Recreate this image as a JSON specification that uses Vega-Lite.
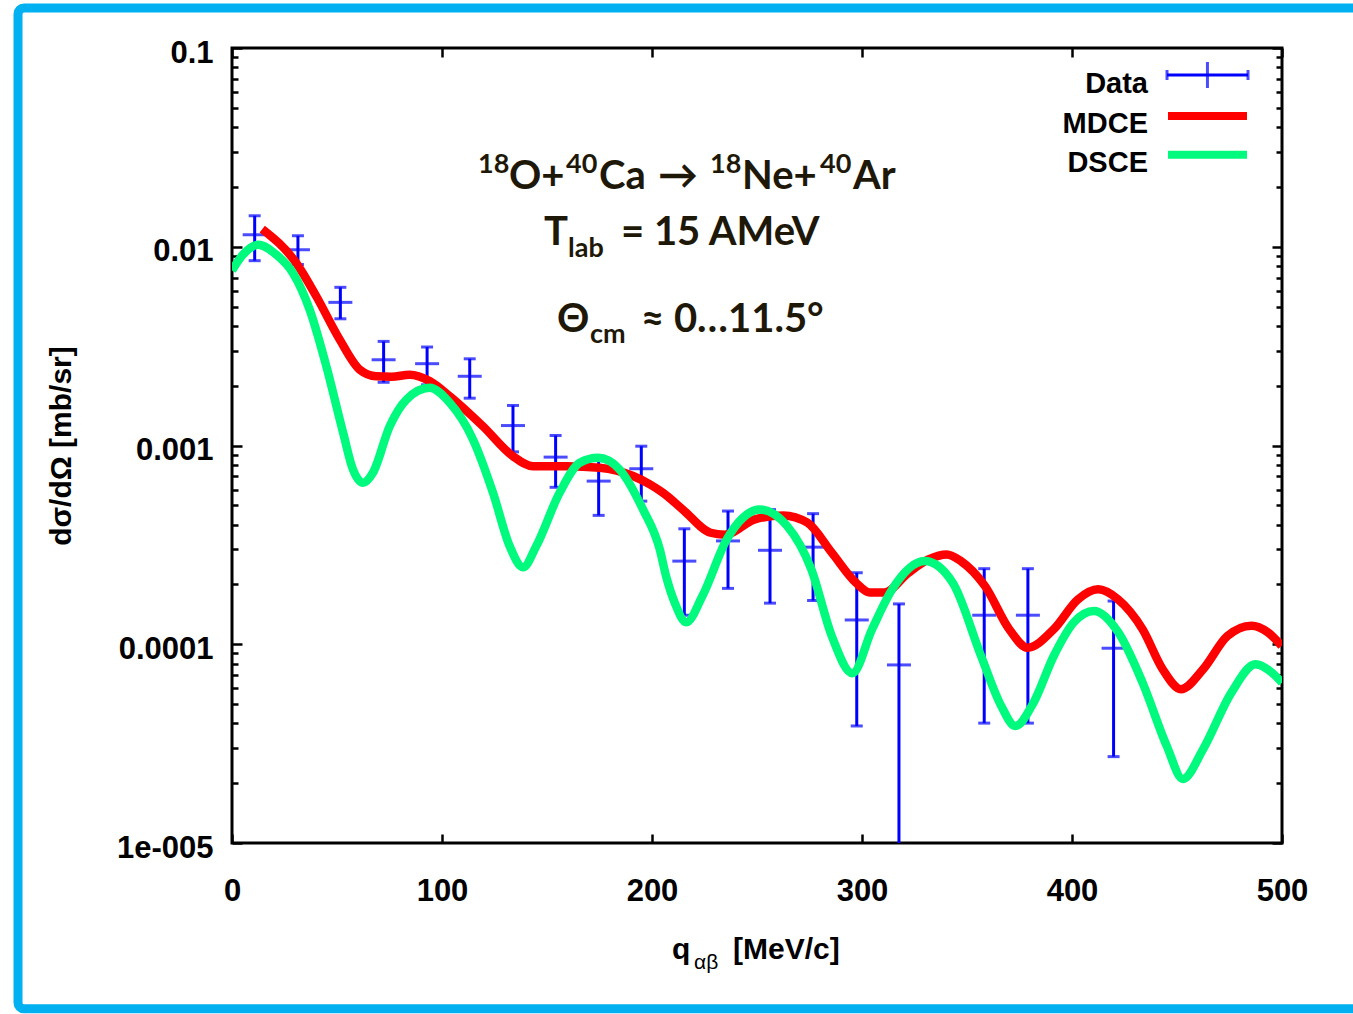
{
  "$schema": "https://vega.github.io/schema/vega-lite/v6.json",
  "width": 1050,
  "height": 795,
  "autosize": {"type": "none"},
  "padding": {"left": 232, "top": 48, "right": 71, "bottom": 171},
  "background": "white",
  "config": {
    "view": {"stroke": "black", "strokeWidth": 3},
    "axis": {
      "domain": false, "grid": false, "tickColor": "black", "tickWidth": 2.5, "labelFlush": false,
      "labelFont": "Liberation Sans", "labelFontWeight": "bold", "labelFontSize": 31, "labelColor": "black",
      "titleFont": "Liberation Sans", "titleFontWeight": "bold", "titleColor": "black"
    }
  },
  "datasets": {
    "frame": [{"q1": -101.9, "q2": 546.7, "v1": 0.1589, "v2": 1.4647e-6}],
    "points": [
      {"q": 10.8, "v": 0.01149, "lo": 0.00851, "hi": 0.01432},
      {"q": 31.4, "v": 0.00966, "lo": 0.00813, "hi": 0.01135},
      {"q": 51.6, "v": 0.00525, "lo": 0.00434, "hi": 0.00625},
      {"q": 72.2, "v": 0.0027, "lo": 0.00208, "hi": 0.00334},
      {"q": 92.9, "v": 0.00258, "lo": 0.00202, "hi": 0.00313},
      {"q": 113.2, "v": 0.00223, "lo": 0.00173, "hi": 0.00273},
      {"q": 133.8, "v": 0.00126, "lo": 0.000929, "hi": 0.00159},
      {"q": 154.1, "v": 0.000874, "lo": 0.000616, "hi": 0.001123},
      {"q": 174.6, "v": 0.000662, "lo": 0.000445, "hi": 0.000863},
      {"q": 194.9, "v": 0.000764, "lo": 0.000525, "hi": 0.000992},
      {"q": 215.4, "v": 0.000262, "lo": 0.00014, "hi": 0.000381},
      {"q": 236.2, "v": 0.000331, "lo": 0.000191, "hi": 0.000468},
      {"q": 256.2, "v": 0.000297, "lo": 0.000161, "hi": 0.000476},
      {"q": 276.7, "v": 0.000308, "lo": 0.000166, "hi": 0.000454},
      {"q": 297.5, "v": 0.0001325, "lo": 0.0000388, "hi": 0.000229},
      {"q": 317.6, "v": 0.0000787, "lo": 0.000001, "hi": 0.0001596},
      {"q": 358.2, "v": 0.00014, "lo": 0.0000401, "hi": 0.00024},
      {"q": 379.0, "v": 0.00014, "lo": 0.0000401, "hi": 0.00024},
      {"q": 419.8, "v": 0.0000955, "lo": 0.0000272, "hi": 0.000165}
    ],
    "mdce": [
      {"q": 14.4, "v": 0.01227}, {"q": 30.6, "v": 0.00828}, {"q": 40.2, "v": 0.00562},
      {"q": 51.3, "v": 0.00341}, {"q": 60.8, "v": 0.00241}, {"q": 68.7, "v": 0.00223},
      {"q": 76.0, "v": 0.00222}, {"q": 84.6, "v": 0.00227}, {"q": 94.1, "v": 0.00211},
      {"q": 103.7, "v": 0.00177}, {"q": 119.5, "v": 0.00125}, {"q": 133.8, "v": 0.000883},
      {"q": 143.3, "v": 0.000787}, {"q": 159.2, "v": 0.000787}, {"q": 175.1, "v": 0.000773},
      {"q": 191.0, "v": 0.000702}, {"q": 199.0, "v": 0.000637}, {"q": 205.2, "v": 0.000578},
      {"q": 214.6, "v": 0.000477}, {"q": 227.9, "v": 0.000364}, {"q": 234.6, "v": 0.000356},
      {"q": 249.0, "v": 0.000425}, {"q": 262.5, "v": 0.000445}, {"q": 274.0, "v": 0.000409},
      {"q": 285.6, "v": 0.000289}, {"q": 297.1, "v": 0.000204}, {"q": 303.8, "v": 0.000182},
      {"q": 310.6, "v": 0.000182}, {"q": 322.1, "v": 0.000229}, {"q": 331.7, "v": 0.000267},
      {"q": 340.3, "v": 0.000283}, {"q": 347.1, "v": 0.000262}, {"q": 358.6, "v": 0.000196},
      {"q": 370.1, "v": 0.000119}, {"q": 378.8, "v": 0.0000961}, {"q": 391.3, "v": 0.000119},
      {"q": 402.8, "v": 0.000168}, {"q": 412.4, "v": 0.000189}, {"q": 422.0, "v": 0.000168},
      {"q": 433.6, "v": 0.000119}, {"q": 443.2, "v": 0.0000748}, {"q": 451.9, "v": 0.0000594},
      {"q": 462.4, "v": 0.0000748}, {"q": 474.0, "v": 0.00011}, {"q": 485.5, "v": 0.000124},
      {"q": 493.2, "v": 0.000115}, {"q": 499.8, "v": 0.0000982}
    ],
    "dsce": [
      {"q": 0.0, "v": 0.0076}, {"q": 5.2, "v": 0.00912}, {"q": 12.4, "v": 0.01023},
      {"q": 21.1, "v": 0.00912}, {"q": 29.0, "v": 0.00738}, {"q": 37.0, "v": 0.00482},
      {"q": 44.9, "v": 0.00251}, {"q": 52.9, "v": 0.00116}, {"q": 57.6, "v": 0.000757},
      {"q": 62.4, "v": 0.000649}, {"q": 67.1, "v": 0.000729}, {"q": 75.1, "v": 0.00125},
      {"q": 83.0, "v": 0.0017}, {"q": 94.1, "v": 0.00195}, {"q": 103.7, "v": 0.00164},
      {"q": 114.8, "v": 0.00107}, {"q": 124.3, "v": 0.000578}, {"q": 132.2, "v": 0.000312},
      {"q": 138.6, "v": 0.000244}, {"q": 144.9, "v": 0.000312}, {"q": 156.0, "v": 0.000578},
      {"q": 165.6, "v": 0.000818}, {"q": 174.3, "v": 0.000867}, {"q": 184.6, "v": 0.000757},
      {"q": 195.7, "v": 0.000477}, {"q": 203.7, "v": 0.0003}, {"q": 206.7, "v": 0.00022},
      {"q": 211.0, "v": 0.00016}, {"q": 216.3, "v": 0.000129}, {"q": 224.0, "v": 0.000175},
      {"q": 235.6, "v": 0.000337}, {"q": 243.0, "v": 0.00043}, {"q": 251.0, "v": 0.000477},
      {"q": 264.4, "v": 0.000393}, {"q": 275.9, "v": 0.000238}, {"q": 285.6, "v": 0.00011},
      {"q": 295.4, "v": 0.0000715}, {"q": 304.8, "v": 0.000119}, {"q": 314.4, "v": 0.000189},
      {"q": 329.8, "v": 0.000262}, {"q": 343.2, "v": 0.000204}, {"q": 356.7, "v": 0.0000873},
      {"q": 366.3, "v": 0.0000489}, {"q": 373.0, "v": 0.0000388}, {"q": 381.7, "v": 0.0000509},
      {"q": 391.3, "v": 0.0000873}, {"q": 400.9, "v": 0.000129}, {"q": 410.5, "v": 0.000147},
      {"q": 422.0, "v": 0.000115}, {"q": 433.6, "v": 0.0000641}, {"q": 445.1, "v": 0.0000308},
      {"q": 452.8, "v": 0.000021}, {"q": 462.4, "v": 0.0000296}, {"q": 475.9, "v": 0.0000571},
      {"q": 487.4, "v": 0.0000793}, {"q": 495.1, "v": 0.0000721}, {"q": 500.0, "v": 0.0000641}
    ],
    "annBig": [
      {"t": "O+", "q": 131.9, "v": 0.019566},
      {"t": "Ca", "q": 174.76, "v": 0.019566},
      {"t": "→", "q": 202.86, "v": 0.019566},
      {"t": "Ne+", "q": 242.86, "v": 0.019566},
      {"t": "Ar", "q": 295.71, "v": 0.019566},
      {"t": "T", "q": 148.57, "v": 0.010234},
      {"t": "= 15 AMeV", "q": 185.24, "v": 0.010234},
      {"t": "Θ", "q": 154.76, "v": 0.00374},
      {"t": "≈ 0…11.5°", "q": 194.76, "v": 0.00374}
    ],
    "annSmall": [
      {"t": "18", "q": 117.14, "v": 0.02354},
      {"t": "40", "q": 159.05, "v": 0.02354},
      {"t": "18", "q": 227.62, "v": 0.02354},
      {"t": "40", "q": 280.0, "v": 0.02354},
      {"t": "lab", "q": 160.0, "v": 0.008907},
      {"t": "cm", "q": 170.48, "v": 0.003293}
    ],
    "legendText": [
      {"t": "Data", "q": 436.19, "v": 0.0594},
      {"t": "MDCE", "q": 436.19, "v": 0.0374},
      {"t": "DSCE", "q": 436.19, "v": 0.0238}
    ],
    "legendLines": [
      {"s": "MDCE", "q1": 445.71, "q2": 483.33, "v": 0.04553},
      {"s": "DSCE", "q1": 445.71, "q2": 483.33, "v": 0.029}
    ],
    "legendData": [{"s": "Data", "q1": 445.24, "q2": 483.81, "qc": 464.5, "v": 0.07315}],
    "xTitleBig": [
      {"t": "q", "q": 209.5, "v": 2.6127e-6},
      {"t": "[MeV/c]", "q": 238.6, "v": 2.6127e-6}
    ],
    "xTitleSmall": [{"t": "αβ", "q": 220.0, "v": 2.3272e-6}]
  },
  "resolve": {"axis": {"x": "independent", "y": "independent"}},
  "layer": [
    {
      "data": {"name": "frame"},
      "mark": {"type": "rect", "fillOpacity": 0, "stroke": "#00b0f0", "strokeWidth": 9, "cornerRadius": 6, "clip": false},
      "encoding": {
        "x": {"field": "q1", "type": "quantitative", "scale": {"domain": [0, 500], "nice": false, "zero": false}, "axis": null},
        "x2": {"field": "q2"},
        "y": {"field": "v1", "type": "quantitative", "scale": {"type": "log", "domain": [0.00001, 0.1], "nice": false}, "axis": null},
        "y2": {"field": "v2"}
      }
    },
    {
      "data": {"name": "points"},
      "mark": {"type": "rule", "color": "#0000ff", "strokeWidth": 3, "clip": true},
      "encoding": {
        "x": {"field": "q", "type": "quantitative", "scale": {"domain": [0, 500], "nice": false, "zero": false},
              "axis": {"orient": "bottom", "values": [0, 100, 200, 300, 400, 500], "tickSize": -9, "labelPadding": 42, "title": null, "format": "d"}},
        "y": {"field": "lo", "type": "quantitative", "scale": {"type": "log", "domain": [0.00001, 0.1], "nice": false},
              "axis": {"orient": "left", "values": [0.00001, 0.0001, 0.001, 0.01, 0.1], "tickSize": -10, "labelPadding": 29, "labelOffset": 5,
                       "labelExpr": "datum.value > 0.05 ? '0.1' : datum.value > 0.005 ? '0.01' : datum.value > 0.0005 ? '0.001' : datum.value > 0.00005 ? '0.0001' : '1e-005'",
                       "title": "dσ/dΩ [mb/sr]", "titleFontSize": 30, "titlePadding": 40}},
        "y2": {"field": "hi"}
      }
    },
    {
      "data": {"name": "points"},
      "mark": {"type": "tick", "orient": "horizontal", "color": "#0000ff", "size": 24, "thickness": 3, "clip": true},
      "encoding": {
        "x": {"field": "q", "type": "quantitative", "scale": {"domain": [0, 500], "nice": false, "zero": false},
              "axis": {"orient": "top", "values": [0, 100, 200, 300, 400, 500], "tickSize": -9, "labels": false, "title": null}},
        "y": {"field": "v", "type": "quantitative", "scale": {"type": "log", "domain": [0.00001, 0.1], "nice": false},
              "axis": {"orient": "left", "values": [0.00002, 0.00003, 0.00004, 0.00005, 0.00006, 0.00007, 0.00008, 0.00009, 0.0002, 0.0003, 0.0004, 0.0005, 0.0006, 0.0007, 0.0008, 0.0009, 0.002, 0.003, 0.004, 0.005, 0.006, 0.007, 0.008, 0.009, 0.02, 0.03, 0.04, 0.05, 0.06, 0.07, 0.08, 0.09], "tickSize": -6, "labels": false, "title": null}}
      }
    },
    {
      "data": {"name": "points"},
      "mark": {"type": "tick", "orient": "horizontal", "color": "#0000ff", "size": 12, "thickness": 3, "clip": true},
      "encoding": {
        "x": {"field": "q", "type": "quantitative", "scale": {"domain": [0, 500], "nice": false, "zero": false}, "axis": null},
        "y": {"field": "hi", "type": "quantitative", "scale": {"type": "log", "domain": [0.00001, 0.1], "nice": false},
              "axis": {"orient": "right", "values": [0.00001, 0.0001, 0.001, 0.01, 0.1], "tickSize": -10, "labels": false, "title": null}}
      }
    },
    {
      "data": {"name": "points"},
      "mark": {"type": "tick", "orient": "horizontal", "color": "#0000ff", "size": 12, "thickness": 3, "clip": true},
      "encoding": {
        "x": {"field": "q", "type": "quantitative", "scale": {"domain": [0, 500], "nice": false, "zero": false}, "axis": null},
        "y": {"field": "lo", "type": "quantitative", "scale": {"type": "log", "domain": [0.00001, 0.1], "nice": false},
              "axis": {"orient": "right", "values": [0.00002, 0.00003, 0.00004, 0.00005, 0.00006, 0.00007, 0.00008, 0.00009, 0.0002, 0.0003, 0.0004, 0.0005, 0.0006, 0.0007, 0.0008, 0.0009, 0.002, 0.003, 0.004, 0.005, 0.006, 0.007, 0.008, 0.009, 0.02, 0.03, 0.04, 0.05, 0.06, 0.07, 0.08, 0.09], "tickSize": -6, "labels": false, "title": null}}
      }
    },
    {
      "data": {"name": "mdce"},
      "mark": {"type": "line", "color": "#ff0000", "strokeWidth": 8.5, "interpolate": "monotone", "clip": true},
      "encoding": {
        "x": {"field": "q", "type": "quantitative", "scale": {"domain": [0, 500], "nice": false, "zero": false}, "axis": null},
        "y": {"field": "v", "type": "quantitative", "scale": {"type": "log", "domain": [0.00001, 0.1], "nice": false}, "axis": null}
      }
    },
    {
      "data": {"name": "dsce"},
      "mark": {"type": "line", "color": "#00fa7d", "strokeWidth": 8.5, "interpolate": "monotone", "clip": true},
      "encoding": {
        "x": {"field": "q", "type": "quantitative", "scale": {"domain": [0, 500], "nice": false, "zero": false}, "axis": null},
        "y": {"field": "v", "type": "quantitative", "scale": {"type": "log", "domain": [0.00001, 0.1], "nice": false}, "axis": null}
      }
    },
    {
      "data": {"name": "annBig"},
      "mark": {"type": "text", "align": "left", "baseline": "alphabetic", "font": "Lato", "fontWeight": "bold", "fontSize": 40, "color": "#1e1809"},
      "encoding": {
        "x": {"field": "q", "type": "quantitative", "scale": {"domain": [0, 500], "nice": false, "zero": false}, "axis": null},
        "y": {"field": "v", "type": "quantitative", "scale": {"type": "log", "domain": [0.00001, 0.1], "nice": false}, "axis": null},
        "text": {"field": "t"}
      }
    },
    {
      "data": {"name": "annSmall"},
      "mark": {"type": "text", "align": "left", "baseline": "alphabetic", "font": "Lato", "fontWeight": "bold", "fontSize": 27, "color": "#1e1809"},
      "encoding": {
        "x": {"field": "q", "type": "quantitative", "scale": {"domain": [0, 500], "nice": false, "zero": false}, "axis": null},
        "y": {"field": "v", "type": "quantitative", "scale": {"type": "log", "domain": [0.00001, 0.1], "nice": false}, "axis": null},
        "text": {"field": "t"}
      }
    },
    {
      "data": {"name": "legendText"},
      "mark": {"type": "text", "align": "right", "baseline": "alphabetic", "font": "Liberation Sans", "fontWeight": "bold", "fontSize": 29, "color": "black"},
      "encoding": {
        "x": {"field": "q", "type": "quantitative", "scale": {"domain": [0, 500], "nice": false, "zero": false}, "axis": null},
        "y": {"field": "v", "type": "quantitative", "scale": {"type": "log", "domain": [0.00001, 0.1], "nice": false}, "axis": null},
        "text": {"field": "t"}
      }
    },
    {
      "data": {"name": "legendLines"},
      "mark": {"type": "rule", "strokeWidth": 8},
      "encoding": {
        "x": {"field": "q1", "type": "quantitative", "scale": {"domain": [0, 500], "nice": false, "zero": false}, "axis": null},
        "x2": {"field": "q2"},
        "y": {"field": "v", "type": "quantitative", "scale": {"type": "log", "domain": [0.00001, 0.1], "nice": false}, "axis": null},
        "color": {"field": "s", "type": "nominal", "scale": {"domain": ["MDCE", "DSCE"], "range": ["#ff0000", "#00fa7d"]}, "legend": null}
      }
    },
    {
      "data": {"name": "legendData"},
      "mark": {"type": "rule", "strokeWidth": 3, "color": "#0000ff"},
      "encoding": {
        "x": {"field": "q1", "type": "quantitative", "scale": {"domain": [0, 500], "nice": false, "zero": false}, "axis": null},
        "x2": {"field": "q2"},
        "y": {"field": "v", "type": "quantitative", "scale": {"type": "log", "domain": [0.00001, 0.1], "nice": false}, "axis": null}
      }
    },
    {
      "data": {"name": "legendData"},
      "mark": {"type": "tick", "orient": "vertical", "size": 26, "thickness": 3, "color": "#0000ff"},
      "encoding": {
        "x": {"field": "qc", "type": "quantitative", "scale": {"domain": [0, 500], "nice": false, "zero": false}, "axis": null},
        "y": {"field": "v", "type": "quantitative", "scale": {"type": "log", "domain": [0.00001, 0.1], "nice": false}, "axis": null}
      }
    },
    {
      "data": {"name": "legendData"},
      "mark": {"type": "tick", "orient": "vertical", "size": 10, "thickness": 3, "color": "#0000ff"},
      "encoding": {
        "x": {"field": "q1", "type": "quantitative", "scale": {"domain": [0, 500], "nice": false, "zero": false}, "axis": null},
        "y": {"field": "v", "type": "quantitative", "scale": {"type": "log", "domain": [0.00001, 0.1], "nice": false}, "axis": null}
      }
    },
    {
      "data": {"name": "legendData"},
      "mark": {"type": "tick", "orient": "vertical", "size": 10, "thickness": 3, "color": "#0000ff"},
      "encoding": {
        "x": {"field": "q2", "type": "quantitative", "scale": {"domain": [0, 500], "nice": false, "zero": false}, "axis": null},
        "y": {"field": "v", "type": "quantitative", "scale": {"type": "log", "domain": [0.00001, 0.1], "nice": false}, "axis": null}
      }
    },
    {
      "data": {"name": "xTitleBig"},
      "mark": {"type": "text", "align": "left", "baseline": "alphabetic", "font": "Liberation Sans", "fontWeight": "bold", "fontSize": 30, "color": "black"},
      "encoding": {
        "x": {"field": "q", "type": "quantitative", "scale": {"domain": [0, 500], "nice": false, "zero": false}, "axis": null},
        "y": {"field": "v", "type": "quantitative", "scale": {"type": "log", "domain": [0.00001, 0.1], "nice": false}, "axis": null},
        "text": {"field": "t"}
      }
    },
    {
      "data": {"name": "xTitleSmall"},
      "mark": {"type": "text", "align": "left", "baseline": "alphabetic", "font": "Liberation Sans", "fontSize": 21, "color": "black"},
      "encoding": {
        "x": {"field": "q", "type": "quantitative", "scale": {"domain": [0, 500], "nice": false, "zero": false}, "axis": null},
        "y": {"field": "v", "type": "quantitative", "scale": {"type": "log", "domain": [0.00001, 0.1], "nice": false}, "axis": null},
        "text": {"field": "t"}
      }
    }
  ]
}
